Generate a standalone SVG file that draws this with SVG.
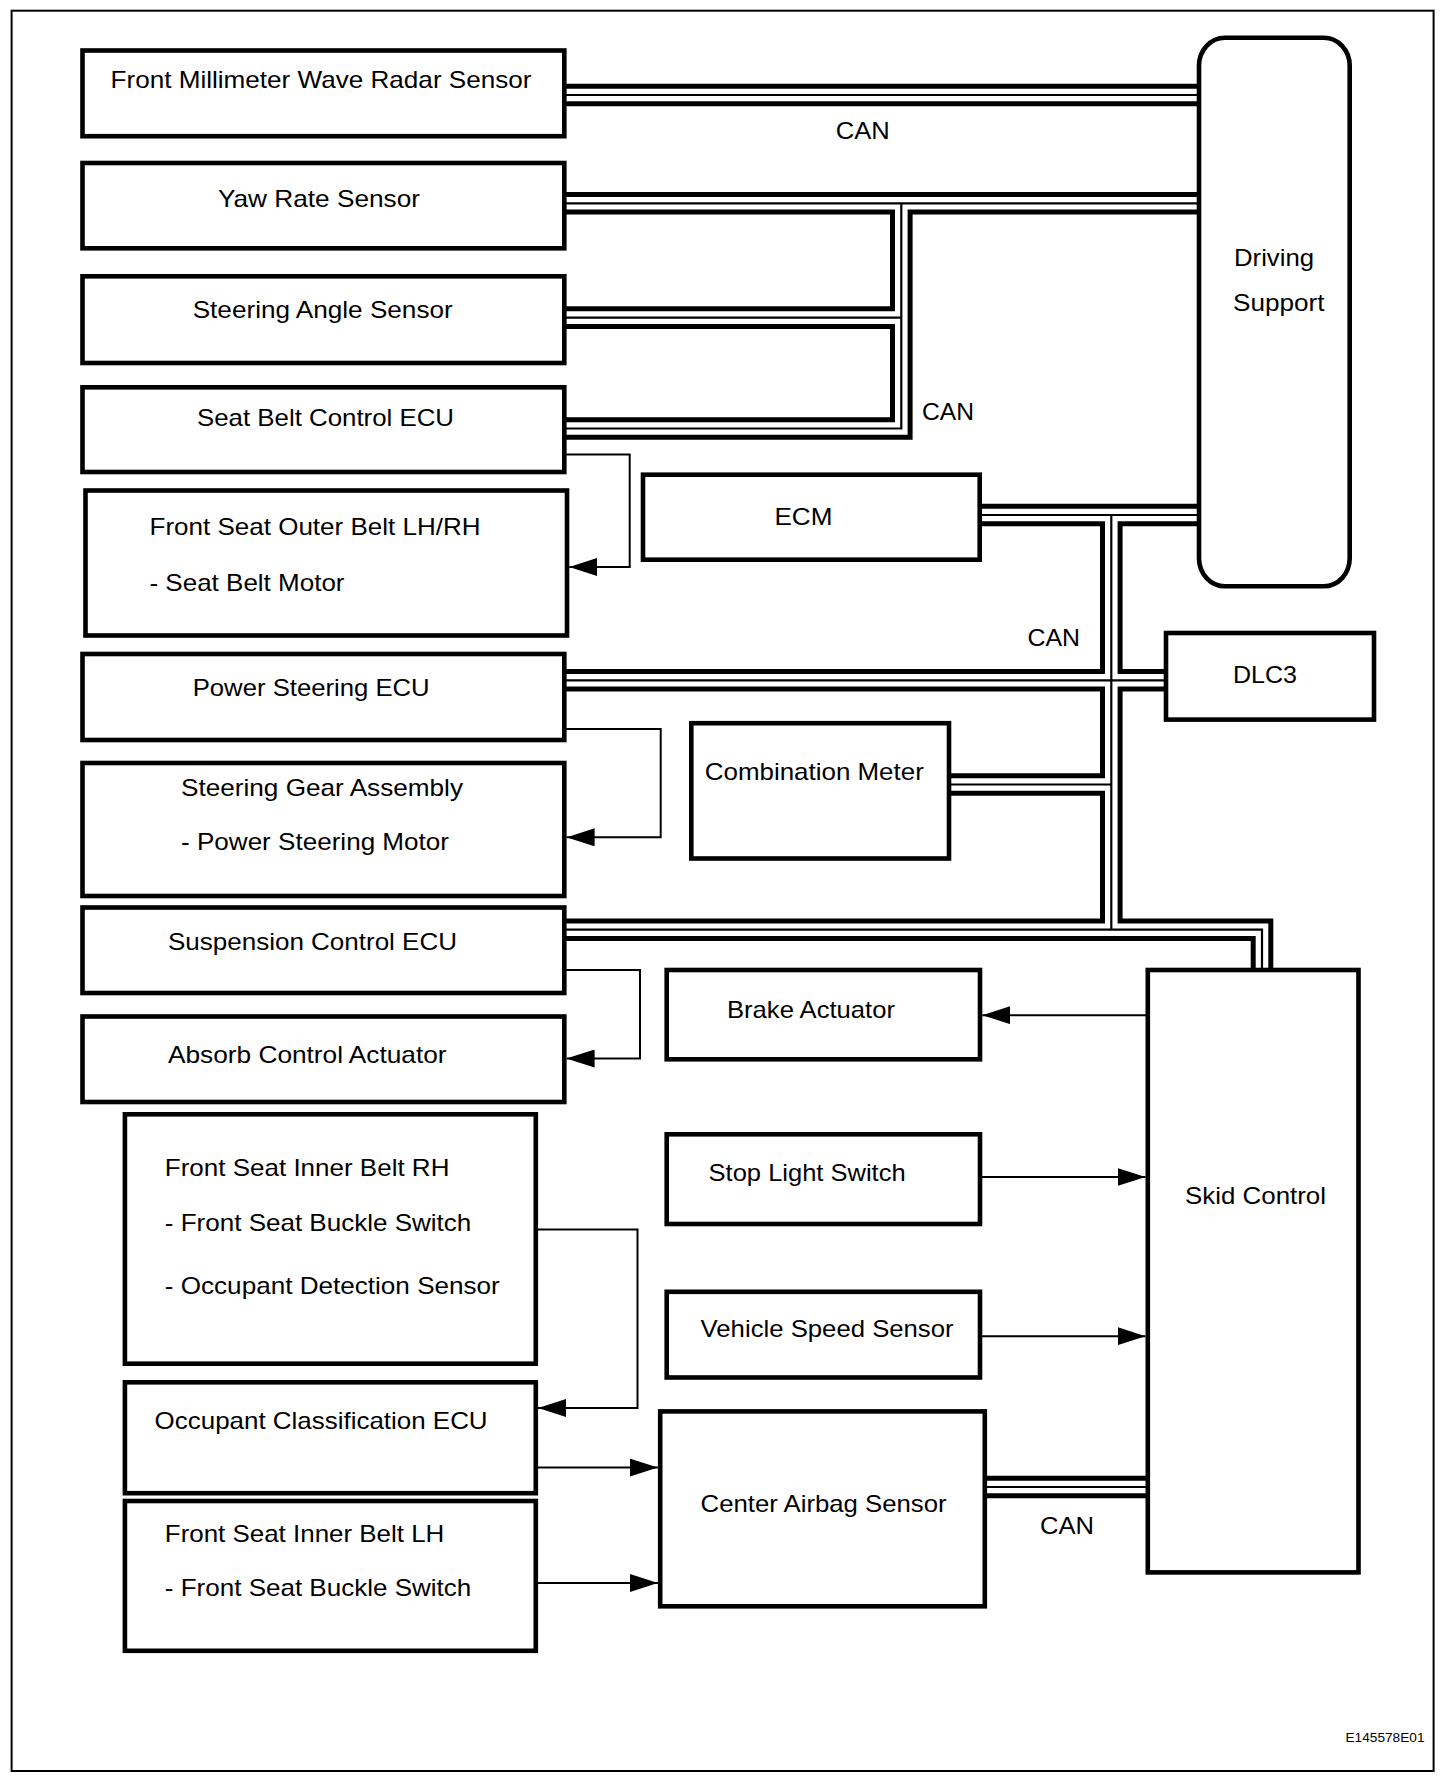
<svg xmlns="http://www.w3.org/2000/svg" width="1456" height="1782" viewBox="0 0 1456 1782">
<style>
.box{fill:#fff;stroke:#000;stroke-width:4.6}
.bo{fill:none;stroke:#000;stroke-width:22.6;stroke-linejoin:miter;stroke-linecap:butt}
.bw{fill:none;stroke:#fff;stroke-width:12.6;stroke-linejoin:miter;stroke-linecap:butt}
.bi{fill:none;stroke:#000;stroke-width:2.2;stroke-linecap:butt}
.ln{fill:none;stroke:#000;stroke-width:2}
.ar{marker-end:url(#arr)}
text{font-family:"Liberation Sans",Arial,Helvetica,sans-serif;font-size:24px;fill:#000}
.sm{font-size:13px}
</style>
<defs>
<marker id="arr" viewBox="0 0 28 18" refX="28" refY="9" markerWidth="28" markerHeight="18" markerUnits="userSpaceOnUse" orient="auto">
<path d="M0,0 L28,9 L0,18 Z" fill="#000"/>
</marker>
</defs>
<rect x="11.6" y="10.7" width="1422" height="1760.3" fill="#fff" stroke="#000" stroke-width="2"/>
<g id="connectors">
<g class="bo">
<path d="M564.3,95 H1199"/>
<path d="M564.3,203.3 H1199"/>
<path d="M564.3,428.5 H901.3 V203.3"/>
<path d="M564.3,317.6 H901.3"/>
<path d="M979.7,515 H1199"/>
<path d="M1111.3,515 V929.7"/>
<path d="M564.3,680.3 H1166"/>
<path d="M949,784.5 H1111.3"/>
<path d="M564.3,929.7 H1262 V970"/>
<path d="M984.8,1487 H1147.8"/>
</g>
<g class="bw">
<path d="M564.3,95 H1199"/>
<path d="M564.3,203.3 H1199"/>
<path d="M564.3,428.5 H901.3 V203.3"/>
<path d="M564.3,317.6 H901.3"/>
<path d="M979.7,515 H1199"/>
<path d="M1111.3,515 V929.7"/>
<path d="M564.3,680.3 H1166"/>
<path d="M949,784.5 H1111.3"/>
<path d="M564.3,929.7 H1262 V970"/>
<path d="M984.8,1487 H1147.8"/>
</g>
<g class="bi">
<path d="M564.3,95 H1199"/>
<path d="M564.3,203.3 H1199"/>
<path d="M564.3,428.5 H901.3 V203.3"/>
<path d="M564.3,317.6 H901.3"/>
<path d="M979.7,515 H1199"/>
<path d="M1111.3,515 V929.7"/>
<path d="M564.3,680.3 H1166"/>
<path d="M949,784.5 H1111.3"/>
<path d="M564.3,929.7 H1262 V970"/>
<path d="M984.8,1487 H1147.8"/>
</g>
<g class="ln ar">
<path d="M564.3,454.6 H629.7 V567 H569.3"/>
<path d="M564.3,729 H660.7 V837.3 H566.6"/>
<path d="M564.3,970 H640 V1058.5 H566.6"/>
<path d="M535.8,1229.6 H637.5 V1408 H538.1"/>
<path d="M535.8,1467.6 H657.9"/>
<path d="M535.8,1583 H657.9"/>
<path d="M1147.8,1015.2 H982.3"/>
<path d="M980,1177 H1145.5"/>
<path d="M980,1336.2 H1145.5"/>
</g>
<text x="835.7" y="138.5" textLength="54" lengthAdjust="spacingAndGlyphs">CAN</text>
<text x="922" y="420" textLength="52" lengthAdjust="spacingAndGlyphs">CAN</text>
<text x="1027.5" y="646" textLength="52.5" lengthAdjust="spacingAndGlyphs">CAN</text>
<text x="1040" y="1534" textLength="54" lengthAdjust="spacingAndGlyphs">CAN</text>
</g>
<g id="n-fmwr"><rect class="box" x="82.5" y="50.5" width="481.8" height="85.7"/><text x="110.5" y="88" textLength="421" lengthAdjust="spacingAndGlyphs">Front Millimeter Wave Radar Sensor</text></g>
<g id="n-yaw"><rect class="box" x="82.5" y="163" width="481.8" height="85.3"/><text x="218" y="206.7" textLength="202" lengthAdjust="spacingAndGlyphs">Yaw Rate Sensor</text></g>
<g id="n-sas"><rect class="box" x="82.5" y="276.3" width="481.8" height="86.7"/><text x="192.7" y="317.6" textLength="260" lengthAdjust="spacingAndGlyphs">Steering Angle Sensor</text></g>
<g id="n-sbecu"><rect class="box" x="82.5" y="387.3" width="481.8" height="84.7"/><text x="197" y="426" textLength="257" lengthAdjust="spacingAndGlyphs">Seat Belt Control ECU</text></g>
<g id="n-fsob"><rect class="box" x="85.5" y="490.5" width="481.5" height="145"/><text x="149.5" y="535" textLength="331" lengthAdjust="spacingAndGlyphs">Front Seat Outer Belt LH/RH</text><text x="149.5" y="590.5" textLength="195" lengthAdjust="spacingAndGlyphs">- Seat Belt Motor</text></g>
<g id="n-ecm"><rect class="box" x="643" y="474.7" width="336.7" height="85"/><text x="774.4" y="525" textLength="58" lengthAdjust="spacingAndGlyphs">ECM</text></g>
<g id="n-ds"><rect class="box" x="1199" y="37.7" width="150.7" height="548.6" rx="26" ry="28"/><text x="1234" y="266" textLength="80" lengthAdjust="spacingAndGlyphs">Driving</text><text x="1233" y="310.7" textLength="91.5" lengthAdjust="spacingAndGlyphs">Support</text></g>
<g id="n-psecu"><rect class="box" x="82.5" y="654" width="481.8" height="86"/><text x="192.7" y="695.7" textLength="237" lengthAdjust="spacingAndGlyphs">Power Steering ECU</text></g>
<g id="n-dlc3"><rect class="box" x="1166" y="633" width="208" height="86.6"/><text x="1233" y="683.4" textLength="64" lengthAdjust="spacingAndGlyphs">DLC3</text></g>
<g id="n-sga"><rect class="box" x="82.5" y="763" width="481.8" height="133"/><text x="181" y="796" textLength="282" lengthAdjust="spacingAndGlyphs">Steering Gear Assembly</text><text x="181" y="849.5" textLength="268" lengthAdjust="spacingAndGlyphs">- Power Steering Motor</text></g>
<g id="n-cm"><rect class="box" x="691.3" y="723.2" width="257.7" height="135.3"/><text x="704.8" y="780" textLength="219" lengthAdjust="spacingAndGlyphs">Combination Meter</text></g>
<g id="n-sus"><rect class="box" x="82.5" y="907.5" width="481.8" height="85.5"/><text x="168" y="950.2" textLength="289" lengthAdjust="spacingAndGlyphs">Suspension Control ECU</text></g>
<g id="n-abs"><rect class="box" x="82.5" y="1016.5" width="481.8" height="85.5"/><text x="168" y="1063" textLength="278.6" lengthAdjust="spacingAndGlyphs">Absorb Control Actuator</text></g>
<g id="n-brake"><rect class="box" x="666.7" y="970" width="313.3" height="89.3"/><text x="727" y="1018" textLength="168" lengthAdjust="spacingAndGlyphs">Brake Actuator</text></g>
<g id="n-skid"><rect class="box" x="1147.8" y="970" width="210.7" height="602.4"/><text x="1185" y="1204.4" textLength="141" lengthAdjust="spacingAndGlyphs">Skid Control</text></g>
<g id="n-sls"><rect class="box" x="666.7" y="1134.3" width="313.3" height="89.7"/><text x="708.6" y="1180.5" textLength="197" lengthAdjust="spacingAndGlyphs">Stop Light Switch</text></g>
<g id="n-vss"><rect class="box" x="666.7" y="1291.8" width="313.3" height="85.7"/><text x="700.6" y="1337" textLength="253" lengthAdjust="spacingAndGlyphs">Vehicle Speed Sensor</text></g>
<g id="n-cas"><rect class="box" x="660.2" y="1411.4" width="324.6" height="194.9"/><text x="700.6" y="1512.4" textLength="246" lengthAdjust="spacingAndGlyphs">Center Airbag Sensor</text></g>
<g id="n-fsirh"><rect class="box" x="124.9" y="1114.3" width="410.9" height="249.4"/><text x="164.8" y="1176" textLength="284.6" lengthAdjust="spacingAndGlyphs">Front Seat Inner Belt RH</text><text x="164.8" y="1230.5" textLength="306.5" lengthAdjust="spacingAndGlyphs">- Front Seat Buckle Switch</text><text x="164.8" y="1293.6" textLength="335" lengthAdjust="spacingAndGlyphs">- Occupant Detection Sensor</text></g>
<g id="n-occ"><rect class="box" x="124.9" y="1382.3" width="410.9" height="110.9"/><text x="154.6" y="1429.3" textLength="333" lengthAdjust="spacingAndGlyphs">Occupant Classification ECU</text></g>
<g id="n-fsilh"><rect class="box" x="124.9" y="1501" width="410.9" height="149.8"/><text x="164.8" y="1541.5" textLength="279.5" lengthAdjust="spacingAndGlyphs">Front Seat Inner Belt LH</text><text x="164.8" y="1596" textLength="306.5" lengthAdjust="spacingAndGlyphs">- Front Seat Buckle Switch</text></g>
<text class="sm" x="1345.5" y="1741.6" textLength="79" lengthAdjust="spacingAndGlyphs">E145578E01</text>
</svg>
